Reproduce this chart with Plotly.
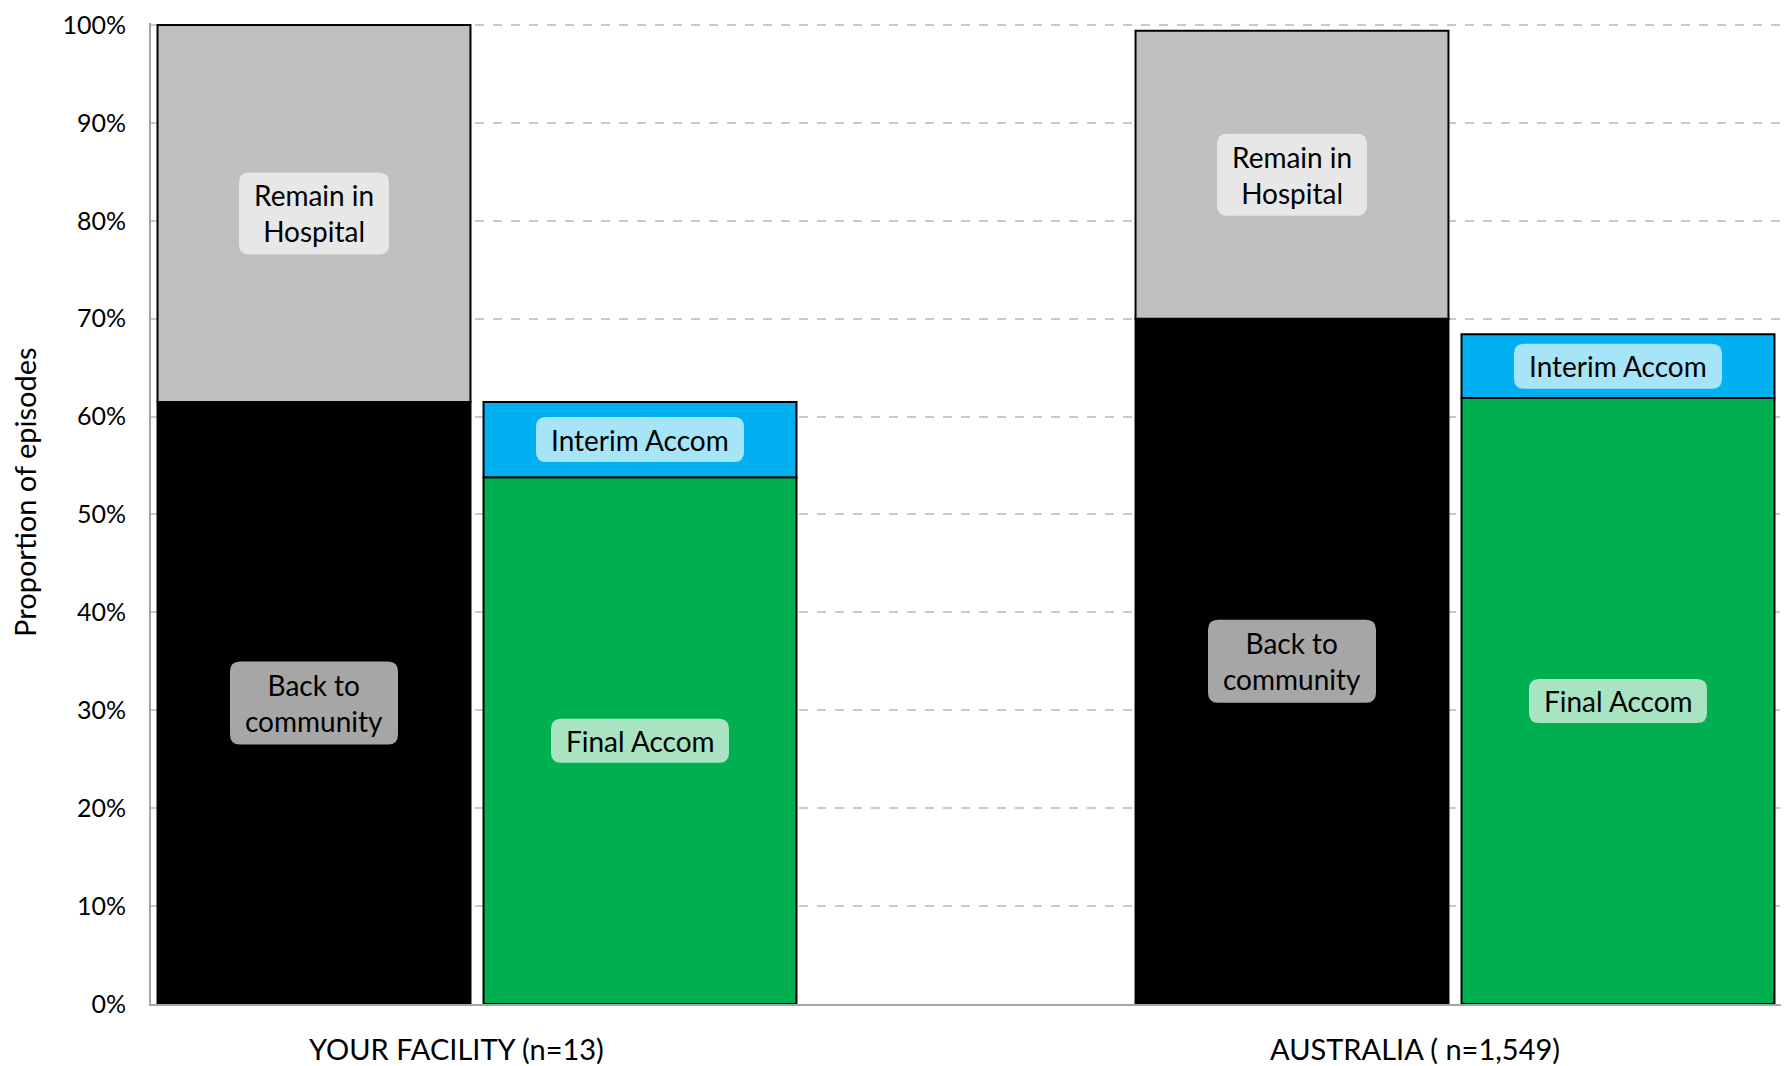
import plotly.graph_objects as go

# Discharge destination by group (percent of episodes)
categories = ["YOUR FACILITY (n=13)", "AUSTRALIA ( n=1,549)"]
back_to_community = [61.5, 70.0]
remain_in_hospital = [38.5, 29.4]
final_accom = [53.8, 61.9]
interim_accom = [7.7, 6.5]
y_tick_values = list(range(0, 101, 10))
y_tick_labels = [f"{v}%" for v in y_tick_values]
y_title = "Proportion of episodes"

FONT = "Lato"
BARGAP = 1 / 3
SLOT = (1 - BARGAP) / 2  # width of one bar slot in category units

series = [
    # name, values, base, offsetgroup, fill, label text, label bg, box w, box h
    ("Back to community", back_to_community, None, "a", "#000000",
     "Back to<br>community", "#a6a6a6", 168, 83),
    ("Remain in Hospital", remain_in_hospital, back_to_community, "a", "#bfbfbf",
     "Remain in<br>Hospital", "#e7e7e7", 150, 82),
    ("Final Accom", final_accom, None, "b", "#00b050",
     "Final Accom", "#a8e4c2", 178, 44),
    ("Interim Accom", interim_accom, final_accom, "b", "#00b0f0",
     "Interim Accom", "#a6e4f8", 208, 45),
]


def rounded_box(w, h, r=10):
    x0, x1, y0, y1 = -w / 2, w / 2, -h / 2, h / 2
    return (f"M {x0 + r},{y0} L {x1 - r},{y0} Q {x1},{y0} {x1},{y0 + r} "
            f"L {x1},{y1 - r} Q {x1},{y1} {x1 - r},{y1} "
            f"L {x0 + r},{y1} Q {x0},{y1} {x0},{y1 - r} "
            f"L {x0},{y0 + r} Q {x0},{y0} {x0 + r},{y0} Z")


fig = go.Figure()
shapes, annotations = [], []

for name, vals, base, group, color, label, label_bg, bw, bh in series:
    fig.add_trace(go.Bar(
        x=categories, y=vals, base=base, name=name, offsetgroup=group,
        marker=dict(color=color, line=dict(color="#000000", width=2)),
        hoverinfo="skip", showlegend=False,
    ))
    offset = -SLOT / 2 if group == "a" else SLOT / 2
    for i, v in enumerate(vals):
        b = base[i] if base is not None else 0
        cx, cy = i + offset, b + v / 2
        shapes.append(dict(
            type="path", layer="above", xref="x", yref="y",
            xsizemode="pixel", ysizemode="pixel", xanchor=cx, yanchor=cy,
            path=rounded_box(bw, bh), fillcolor=label_bg, line=dict(width=0),
        ))
        annotations.append(dict(
            x=cx, y=cy, xref="x", yref="y", text=label, showarrow=False,
            font=dict(family=FONT, size=28, color="#000000"),
            align="center", xanchor="center", yanchor="middle",
        ))

# Category labels under each group
for i, (cat, shift) in enumerate(zip(categories, [-21, -40])):
    annotations.append(dict(
        x=i, y=0, xref="x", yref="y", text=cat, showarrow=False,
        xshift=shift, yshift=-44, xanchor="center", yanchor="middle",
        font=dict(family=FONT, size=29, color="#000000"),
    ))

# Vertical axis title
annotations.append(dict(
    x=0, y=0.522, xref="paper", yref="paper", text=y_title, showarrow=False,
    textangle=-90, xshift=-126, xanchor="center", yanchor="middle",
    font=dict(family=FONT, size=29, color="#000000"),
))

fig.update_layout(
    width=1787, height=1066,
    margin=dict(l=151, r=6, t=23, b=62),
    paper_bgcolor="white", plot_bgcolor="white",
    barmode="group", bargap=BARGAP, bargroupgap=0.04,
    font=dict(family=FONT, size=25, color="#000000"),
    shapes=shapes, annotations=annotations,
    xaxis=dict(
        range=[-1 / 3, 4 / 3], showticklabels=False, ticks="",
        showline=True, linecolor="#a6a6a6", linewidth=2,
        showgrid=False, zeroline=False,
    ),
    yaxis=dict(
        range=[0, 100.2], tickvals=y_tick_values, ticktext=y_tick_labels,
        tickfont=dict(family=FONT, size=25, color="#000000"),
        ticklabelstandoff=18,
        showline=True, linecolor="#a6a6a6", linewidth=2,
        showgrid=True, gridcolor="#c9c9c9", gridwidth=2, griddash="dash",
        zeroline=False,
    ),
)

fig.write_html("out.html")
